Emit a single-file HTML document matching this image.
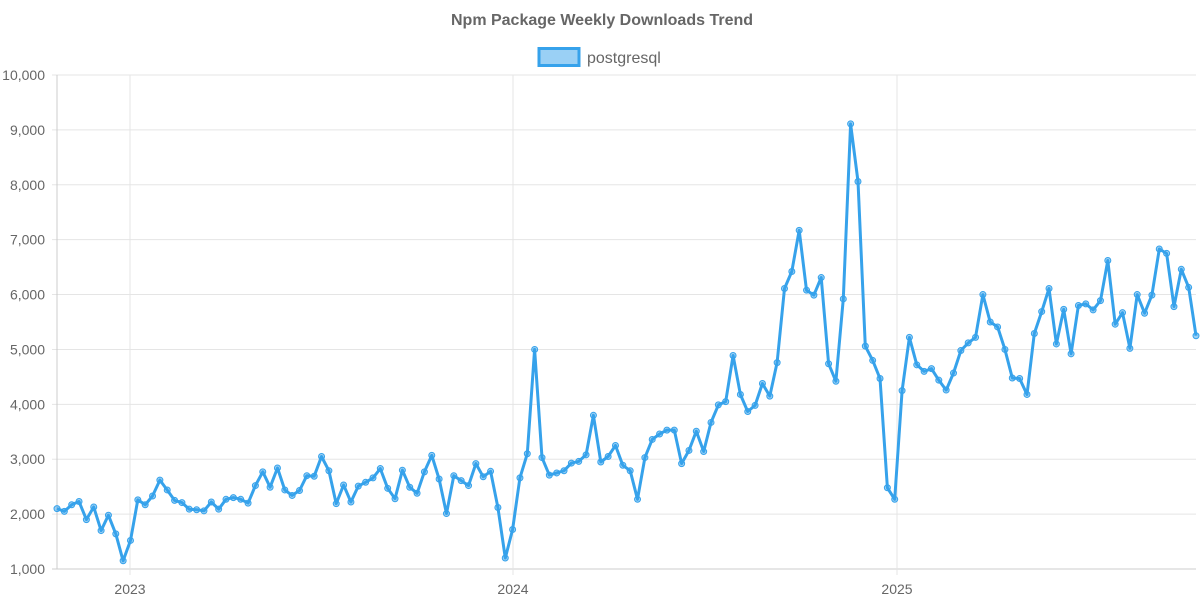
<!DOCTYPE html>
<html><head><meta charset="utf-8"><style>
body{margin:0;background:#fff;width:1200px;height:600px;overflow:hidden;font-family:"Liberation Sans",Arial,sans-serif}
</style></head><body>
<svg id="s" width="1200" height="600" xmlns="http://www.w3.org/2000/svg" font-family="Liberation Sans, Arial, sans-serif">
<text x="602" y="25" text-anchor="middle" font-size="16" font-weight="bold" fill="#666">Npm Package Weekly Downloads Trend</text>
<rect x="539" y="48.5" width="40" height="17" fill="rgba(54,162,235,0.5)" stroke="#36a2eb" stroke-width="3"/>
<text x="587" y="63" font-size="16" fill="#666">postgresql</text>
<g id="grid"></g>
<g id="plot"></g>
</svg>
<script>
var vals=[2100,2050,2170,2230,1900,2130,1700,1980,1640,1150,1520,2260,2170,2330,2620,2440,2250,2210,2090,2080,2060,2220,2090,2270,2300,2270,2200,2520,2770,2490,2840,2440,2340,2430,2700,2690,3050,2790,2190,2530,2220,2510,2580,2660,2830,2470,2280,2800,2490,2380,2770,3070,2640,2010,2700,2610,2520,2920,2680,2780,2120,1200,1720,2660,3100,5000,3030,2710,2750,2790,2930,2960,3080,3800,2950,3050,3250,2890,2790,2270,3030,3360,3460,3530,3530,2920,3160,3510,3140,3670,3990,4050,4890,4180,3870,3980,4380,4150,4760,6110,6420,7170,6080,5990,6310,4740,4420,5920,9110,8060,5060,4800,4470,2480,2270,4250,5220,4720,4600,4650,4440,4260,4570,4980,5120,5220,6000,5500,5410,5000,4480,4470,4180,5290,5690,6110,5100,5730,4920,5800,5830,5720,5890,6620,5460,5670,5020,6000,5660,5990,6830,6750,5780,6460,6130,5250];
var NS="http://www.w3.org/2000/svg";
function el(t,a,p,txt){var e=document.createElementNS(NS,t);for(var k in a)e.setAttribute(k,a[k]);if(txt)e.textContent=txt;p.appendChild(e);return e;}
var g=document.getElementById('grid'),p=document.getElementById('plot');
function Y(v){return 569-(v-1000)*494/9000;}
for(var v=1000;v<=10000;v+=1000){var y=Y(v);el('line',{x1:52,x2:1196,y1:y,y2:y,stroke:v==1000?'#ccc':'#e5e5e5','stroke-width':1},g);
el('text',{x:45,y:y+5,'text-anchor':'end','font-size':14,fill:'#666'},g,v.toLocaleString('en-US'));}
[57,130,513,897].forEach(function(x,i){el('line',{x1:x,x2:x,y1:75,y2:i?575:569,stroke:i?'#e5e5e5':'#ccc'},g);});
[['2023',130],['2024',513],['2025',897]].forEach(function(a){el('text',{x:a[1],y:594,'text-anchor':'middle','font-size':14,fill:'#666'},g,a[0]);});
var n=vals.length,d='';
vals.forEach(function(v,i){var x=57+i*(1139/(n-1));d+=(i?'L':'M')+x.toFixed(1)+','+Y(v).toFixed(1);});
el('path',{d:d,fill:'none',stroke:'#36a2eb','stroke-width':3,'stroke-linejoin':'round'},p);
vals.forEach(function(v,i){var x=57+i*(1139/(n-1));el('circle',{cx:x,cy:Y(v),r:3,fill:'rgba(54,162,235,0.5)',stroke:'#36a2eb','stroke-width':1},p);});
</script>
</body></html>
